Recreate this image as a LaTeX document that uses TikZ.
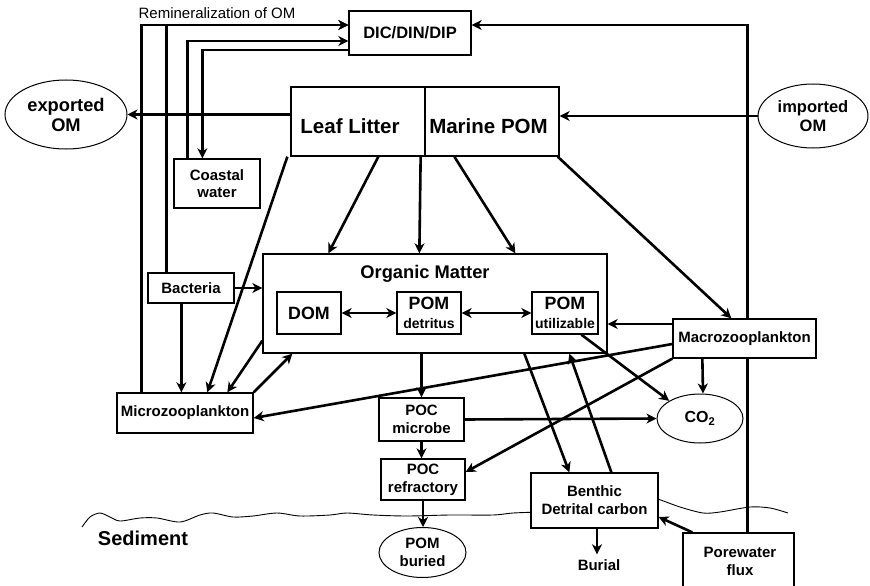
\documentclass[tikz,border=0pt]{standalone}
\usepackage{fontspec}
\setmainfont{Liberation Sans}
\usetikzlibrary{arrows.meta,shapes.geometric}
\pgfdeclarelayer{bg}
\pgfsetlayers{bg,main}
\tikzset{
 box/.style={draw, line width=1.3pt, fill=white, inner sep=0pt, align=center, font=\bfseries\fontsize{15}{17}\selectfont},
 ell/.style={ellipse, draw, line width=1pt, fill=white, inner sep=0pt, align=center, font=\bfseries\fontsize{15}{18}\selectfont},
 conn/.style={line width=2.6pt, -{Stealth[length=10pt,width=10pt,inset=3pt]}},
 dbl/.style={line width=2.6pt, {Stealth[length=10pt,width=10pt,inset=3pt]}-{Stealth[length=10pt,width=10pt,inset=3pt]}},
 lbl/.style={inner sep=0pt, align=center, font=\bfseries\fontsize{15}{18}\selectfont},
}
\begin{document}
\begin{tikzpicture}[x=1pt,y=-1pt]
\useasboundingbox (0,0) rectangle (870,586);

% nodes
\node[box, minimum width=122pt, minimum height=44pt, font=\bfseries\fontsize{16.5}{19}\selectfont] (dic) at (410,33) {DIC/DIN/DIP};
\node[box, minimum width=134pt, minimum height=69pt] (leaf) at (358,121.5) {};
\node[lbl, font=\bfseries\fontsize{20.5}{24}\selectfont] (leaft) at (350,126) {Leaf Litter};
\node[box, minimum width=134pt, minimum height=69pt] (marine) at (492,121.5) {};
\node[lbl, font=\bfseries\fontsize{20.5}{24}\selectfont] (marinet) at (488.5,126) {Marine POM};
\node[box, minimum width=86pt, minimum height=49pt] (coast) at (217,183.5) {Coastal\\water};
\node[box, minimum width=86pt, minimum height=30pt] (bact) at (191,288) {Bacteria};
\node[box, minimum width=136pt, minimum height=40pt] (micro) at (185,413) {Microzooplankton};
\node[box, minimum width=344pt, minimum height=99pt] (om) at (435,303.5) {};
\node[lbl, font=\bfseries\fontsize{18.3}{22}\selectfont] (omt) at (425,273.5) {Organic Matter};
\node[box, minimum width=64pt, minimum height=42pt, font=\bfseries\fontsize{17.8}{20}\selectfont] (dom) at (309,313) {DOM};
\node[box, minimum width=64pt, minimum height=42pt, font=\bfseries\fontsize{17.8}{19}\selectfont] (pomd) at (429,313) {POM\\{\fontsize{14}{16}\selectfont detritus}};
\node[box, minimum width=66pt, minimum height=42pt, font=\bfseries\fontsize{17.8}{19}\selectfont] (pomu) at (565,313) {POM\\{\fontsize{14}{16}\selectfont utilizable}};
\node[box, minimum width=143pt, minimum height=39pt] (macro) at (744.5,338.5) {Macrozooplankton};
\node[ell, minimum width=86pt, minimum height=49pt, font=\bfseries\fontsize{16}{18}\selectfont] (co2) at (700,418.5) {CO\textsubscript{2}};
\node[box, minimum width=85pt, minimum height=43pt, font=\bfseries\fontsize{15}{18}\selectfont] (pocm) at (421.5,419.5) {POC\\microbe};
\node[box, minimum width=84pt, minimum height=41pt, font=\bfseries\fontsize{15}{18}\selectfont] (pocr) at (423,479.5) {POC\\refractory};
\node[ell, minimum width=87pt, minimum height=50pt] (bur) at (422.5,552.5) {POM\\buried};
\node[box, minimum width=127pt, minimum height=55pt, font=\bfseries\fontsize{15}{18}\selectfont] (benth) at (594.5,500.5) {Benthic\\Detrital carbon};
\node[lbl] (burial) at (599,565) {Burial};
\begin{scope}
\clip (0,0) rectangle (870,586);
\node[box, minimum width=111pt, minimum height=80pt] (pore) at (738.5,573) {};
\end{scope}
\node[lbl] (poret) at (740,561) {Porewater\\flux};
\node[ell, minimum width=122pt, minimum height=69pt, font=\bfseries\fontsize{18.3}{20}\selectfont] (exp) at (66,114.5) {exported\\OM};
\node[ell, minimum width=110pt, minimum height=64pt, font=\bfseries\fontsize{16.5}{19}\selectfont] (imp) at (813,116) {imported\\OM};
\node[lbl, font=\fontsize{15}{18}\selectfont] (remin) at (217,13) {Remineralization of OM};
\node[lbl, font=\bfseries\fontsize{20}{24}\selectfont] (sed) at (143,538) {Sediment};

% connectors inside the organic matter box
\draw[dbl] (dom.east) -- (pomd.west);
\draw[dbl] (pomd.east) -- (pomu.west);
\draw[conn] ([xshift=50]pomu.south west) -- (co2.north west);

\begin{pgfonlayer}{bg}
% sediment surface
\draw[line width=0.9pt] plot[smooth] coordinates {(82,527) (90,517) (100,513) (110,517) (120,521) (140,518) (157,518) (180,522) (200,515) (213,513) (233,517) (253,516) (277,513) (300,516) (330,515) (347,513) (373,515) (407,516) (450,515) (493,515) (513,513) (540,512)};
\draw[line width=0.9pt] plot[smooth] coordinates {(650,497) (658,499) (680,507) (703,513) (720,512) (750,507) (770,508) (788,513)};
% remineralization
\draw[conn] ([xshift=25]micro.north west) |- ([yshift=8]dic.west);
\draw[conn] ([xshift=19]bact.north west) |- ([yshift=8]dic.west);
\draw[conn] ([xshift=14]coast.north west) |- ([yshift=-8]dic.west);
\draw[conn] ([yshift=-17]dic.west) -| ([xshift=29]coast.north west);
\draw[conn] ([xshift=65]pore.north west) |- ([yshift=8]dic.east);
% import / export
\draw[conn] (leaf.west |- exp.east) -- (exp.east);
\draw[conn] (imp.west) -- (marine.east |- imp.west);
% litter and marine POM
\draw[conn] ([xshift=88]leaf.south west) -- ([xshift=66]om.north west);
\draw[conn] ([xshift=-5]leaf.south east) -- ([xshift=157]om.north west);
\draw[conn] ([xshift=30]marine.south west) -- ([xshift=253]om.north west);
\draw[conn] ([xshift=-2]marine.south east) -- ([xshift=59]macro.north west);
\draw[conn] ([xshift=-3]leaf.south west) -- ([xshift=91]micro.north west);
% bacteria, microzooplankton
\draw[conn] (bact.east) -- (om.west |- bact.east);
\draw[conn] ([xshift=34]bact.south west) -- ([xshift=65]micro.north west);
\draw[conn] ([yshift=13]om.south west) -- ([xshift=111]micro.north west);
\draw[conn] (micro.north east) -- ([xshift=30]om.south west);
% macrozooplankton
\draw[conn] ([yshift=-5.5]macro.west) -- ([yshift=-5]micro.east);
\draw[conn] ([yshift=14.5]macro.west) -- ([yshift=-20.5]om.east);
\draw[conn] ([xshift=30]macro.south west) -- ([xshift=3]co2.north);
\draw[conn] (macro.south west) -- ([yshift=7.5]pocr.east);
% POC chain
\draw[conn] (pocm.north |- om.south) -- (pocm.north);
\draw[conn] (pocm.east) -- (co2.west);
\draw[conn] (pocm.south) -- (pocm.south |- pocr.north);
\draw[conn] (pocr.south) -- (pocr.south |- bur.north);
% benthic
\draw[conn] ([xshift=262]om.south west) -- ([xshift=39]benth.north west);
\draw[conn] ([xshift=81]benth.north west) -- ([xshift=307]om.south west);
\draw[conn] ([xshift=2.5]benth.south) -- ([xshift=-2,yshift=5]burial.north);
\draw[conn] ([xshift=10]pore.north west) -- ([yshift=-16.5]benth.east);
\end{pgfonlayer}
\end{tikzpicture}
\end{document}
